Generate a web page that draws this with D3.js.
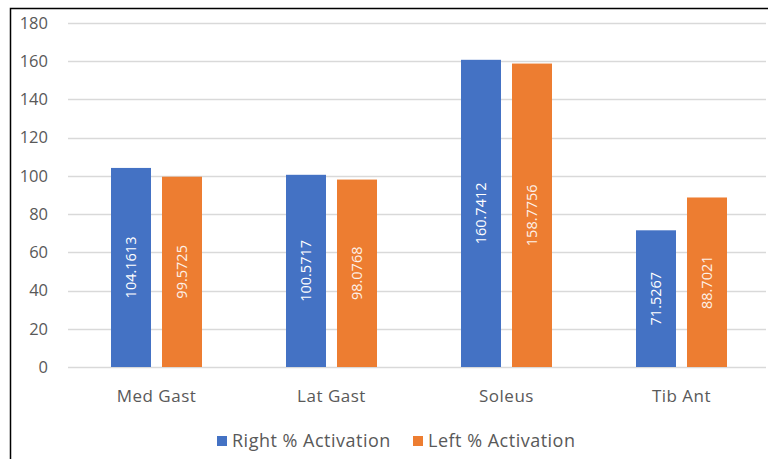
<!DOCTYPE html>
<html lang="en">
	<head>
		<meta charset="utf-8">
		<title>Muscle % Activation</title>
		<script type="text/javascript" src="https://cdn.jsdelivr.net/npm/d3@7"></script>
		<style type="text/css">
			body { margin: 0; background: #fff; }
			text { font-family: "Open Sans", "Noto Sans", sans-serif; }
		</style>
	</head>
	<body>
		<script type="text/javascript">

			//Width and height
			var w = 768;
			var h = 459;

			//Data
			var muscles = ["Med Gast", "Lat Gast", "Soleus", "Tib Ant"];
			var rightActivation = [104.1613, 100.5717, 160.7412, 71.5267];
			var leftActivation = [99.5725, 98.0768, 158.7756, 88.7021];
			var seriesNames = ["Right % Activation", "Left % Activation"];
			var yTicks = [0, 20, 40, 60, 80, 100, 120, 140, 160, 180];

			var colors = ["#4472C4", "#ED7D31"];

			var svg = d3.select("body")
						.append("svg")
						.attr("width", w)
						.attr("height", h);

			//Outer frame
			svg.append("rect")
			   .attr("x", 10.5)
			   .attr("y", 8.5)
			   .attr("width", 800)
			   .attr("height", 500)
			   .attr("fill", "none")
			   .attr("stroke", "#000")
			   .attr("stroke-width", 1.5);

			//Scales
			var xScale = d3.scaleBand()
							.domain(muscles)
							.range([69, 769]);

			var yScale = d3.scaleLinear()
							.domain([0, 180])
							.range([367, 23]);

			var barW = 40;
			var barGap = 11;

			//Gridlines
			svg.append("g")
			   .selectAll("line")
			   .data(yTicks)
			   .enter()
			   .append("line")
			   .attr("x1", 68)
			   .attr("x2", 766)
			   .attr("y1", function(d) { return Math.round(yScale(d)) + 0.5; })
			   .attr("y2", function(d) { return Math.round(yScale(d)) + 0.5; })
			   .attr("stroke", "#D9D9D9")
			   .attr("stroke-width", 1.5);

			//Y axis
			var yAxis = d3.axisLeft(yScale)
						  .tickValues(yTicks)
						  .tickSize(0)
						  .tickPadding(0);

			svg.append("g")
			   .attr("transform", "translate(48,0)")
			   .call(yAxis)
			   .call(function(g) { g.select(".domain").remove(); })
			   .selectAll("text")
			   .attr("font-family", "'Open Sans', sans-serif")
			   .attr("font-size", "16.5px")
			   .attr("fill", "#595959");

			//Bars
			var series = [rightActivation, leftActivation];
			series.forEach(function(vals, s) {
				var g = svg.append("g");
				var bx = function(i) {
					var c = xScale(muscles[i]) + xScale.bandwidth() / 2;
					return s === 0 ? c - barGap / 2 - barW : c + barGap / 2;
				};

				g.selectAll("rect")
				 .data(vals)
				 .enter()
				 .append("rect")
				 .attr("x", function(d, i) { return bx(i); })
				 .attr("y", function(d) { return yScale(d); })
				 .attr("width", barW)
				 .attr("height", function(d) { return yScale(0) - yScale(d); })
				 .attr("fill", colors[s]);

				g.selectAll("text")
				 .data(vals)
				 .enter()
				 .append("text")
				 .text(function(d) { return d; })
				 .attr("transform", function(d, i) {
					var cx = bx(i) + barW / 2;
					var cy = (yScale(d) + yScale(0)) / 2;
					return "translate(" + cx + "," + cy + ") rotate(-90)";
				 })
				 .attr("text-anchor", "middle")
				 .attr("dy", "0.35em")
				 .attr("font-size", "14.5px")
				 .attr("fill", s === 0 ? "#fff" : "#FDF1E8");
			});

			//Category labels
			svg.append("g")
			   .selectAll("text")
			   .data(muscles)
			   .enter()
			   .append("text")
			   .text(function(d) { return d; })
			   .attr("x", function(d) { return xScale(d) + xScale.bandwidth() / 2; })
			   .attr("y", 402)
			   .attr("text-anchor", "middle")
			   .attr("font-size", "17px")
			   .attr("letter-spacing", "0.5px")
			   .attr("fill", "#595959");

			//Legend
			var legendX = [217, 413];
			var legend = svg.append("g");
			seriesNames.forEach(function(name, s) {
				legend.append("rect")
					  .attr("x", legendX[s])
					  .attr("y", 436)
					  .attr("width", 10)
					  .attr("height", 10)
					  .attr("fill", colors[s]);
				legend.append("text")
					  .text(name)
					  .attr("x", legendX[s] + 15)
					  .attr("y", 447)
					  .attr("font-size", "18px")
					  .attr("letter-spacing", "0.5px")
					  .attr("fill", "#595959");
			});

		</script>
	</body>
</html>
